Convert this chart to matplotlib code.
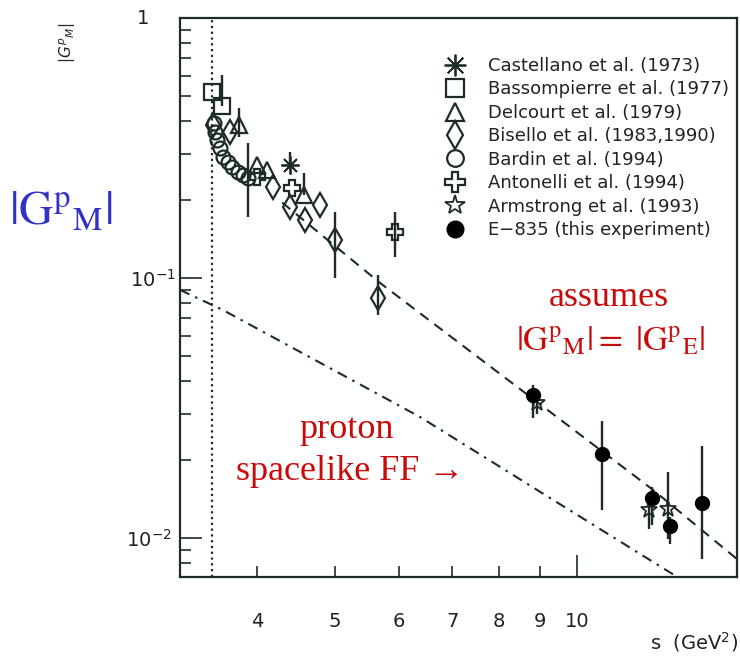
import matplotlib
matplotlib.use('Agg')
import matplotlib.pyplot as plt
import matplotlib.transforms as mtransforms
from matplotlib.lines import Line2D
from matplotlib.ticker import LogLocator, FuncFormatter, NullFormatter

W, H = 740, 662
ink = '#1e2b2b'
red = '#c80a0a'
blue = '#3232c8'

# |G_M| measurements: s (GeV^2), value, lower / upper error
castellano_s = [4.40]
castellano_g = [0.272]
castellano_lo = [0.0]
castellano_hi = [0.033]

bassompierre_s = [3.52, 3.62]
bassompierre_g = [0.52, 0.459]
bassompierre_lo = [0.0, 0.0]
bassompierre_hi = [0.0, 0.145]

delcourt_s = [3.80, 4.00, 4.12, 4.58]
delcourt_g = [0.388, 0.272, 0.260, 0.209]
delcourt_lo = [0.04, 0.0, 0.0, 0.0]
delcourt_hi = [0.063, 0.0, 0.0, 0.044]

bisello_s = [3.53, 3.70, 4.19, 4.40, 4.59, 4.79, 5.00, 5.66]
bisello_g = [0.388, 0.364, 0.224, 0.1875, 0.167, 0.191, 0.140, 0.0838]
bisello_lo = [0.0, 0.0, 0.0, 0.0, 0.0, 0.0, 0.040, 0.012]
bisello_hi = [0.0, 0.0, 0.0, 0.0, 0.0, 0.0, 0.040, 0.019]

bardin_s = [3.536, 3.55, 3.566, 3.597, 3.628, 3.68, 3.73, 3.79, 3.84, 3.90]
bardin_g = [0.395, 0.364, 0.340, 0.316, 0.292, 0.279, 0.267, 0.256, 0.249, 0.243]
bardin_lo = [0, 0, 0, 0, 0, 0, 0, 0, 0, 0.072]
bardin_hi = [0, 0, 0, 0, 0, 0, 0, 0, 0, 0.088]

antonelli_s = [4.00, 4.42, 5.94]
antonelli_g = [0.245, 0.222, 0.150]
antonelli_lo = [0.0, 0.0, 0.030]
antonelli_hi = [0.0, 0.0, 0.030]

armstrong_s = [8.92, 12.3, 12.98]
armstrong_g = [0.0331, 0.0128, 0.0129]
armstrong_lo = [0.003, 0.002, 0.003]
armstrong_hi = [0.003, 0.002, 0.005]

e835_s = [8.81, 10.74, 12.4, 13.05, 14.31]
e835_g = [0.0355, 0.0211, 0.01425, 0.0111, 0.01363]
e835_lo = [0.0065, 0.0083, 0.003, 0.0016, 0.0053]
e835_hi = [0.0033, 0.0070, 0.0015, 0.0009, 0.0090]

# curves
timelike_s = [4.3, 5.69, 12.43, 15.8]
timelike_g = [0.195, 0.0957, 0.0153, 0.0083]
spacelike_s = [3.21, 3.63, 6.38, 9.34, 13.3]
spacelike_g = [0.090, 0.0753, 0.0292, 0.0140, 0.0071]
threshold_s = 3.52

fig = plt.figure(figsize=(W / 100, H / 100), dpi=100)
ax = fig.add_axes([180 / W, 1 - 577 / H, 557 / W, 559 / H])
ax.set_xscale('log')
ax.set_yscale('log')
ax.set_xlim(3.21, 15.8)
ax.set_ylim(0.00708, 1.0)

ax.axvline(threshold_s, color=ink, ls=(0, (1, 1.6)), lw=1.6, zorder=1)
ax.plot(timelike_s, timelike_g, color=ink, lw=1.5, dashes=(5, 3.5), zorder=1)
ax.plot(spacelike_s, spacelike_g, color=ink, lw=1.5, dashes=(5, 3, 1.2, 3), zorder=1)

sets = [
    (castellano_s, castellano_g, castellano_lo, castellano_hi,
     dict(marker=(8, 2, 0), ms=13, mec=ink, mew=1.3), 'Castellano et al. (1973)'),
    (bassompierre_s, bassompierre_g, bassompierre_lo, bassompierre_hi,
     dict(marker='s', ms=11, mfc='none', mec=ink, mew=1.6), 'Bassompierre et al. (1977)'),
    (delcourt_s, delcourt_g, delcourt_lo, delcourt_hi,
     dict(marker='^', ms=11, mfc='none', mec=ink, mew=1.6), 'Delcourt et al. (1979)'),
    (bisello_s, bisello_g, bisello_lo, bisello_hi,
     dict(marker='d', ms=12, mfc='none', mec=ink, mew=1.6), 'Bisello et al. (1983,1990)'),
    (bardin_s, bardin_g, bardin_lo, bardin_hi,
     dict(marker='o', ms=10, mfc='none', mec=ink, mew=1.6), 'Bardin et al. (1994)'),
    (antonelli_s, antonelli_g, antonelli_lo, antonelli_hi,
     dict(marker='P', ms=12, mfc='none', mec=ink, mew=1.6), 'Antonelli et al. (1994)'),
    (armstrong_s, armstrong_g, armstrong_lo, armstrong_hi,
     dict(marker='*', ms=12, mfc='none', mec=ink, mew=1.3), 'Armstrong et al. (1993)'),
    (e835_s, e835_g, e835_lo, e835_hi,
     dict(marker='o', ms=10, mfc='black', mec='black', mew=1), 'E\u2212835 (this experiment)'),
]

handles = []
for s, g, lo, hi, style, label in sets:
    ax.errorbar(s, g, yerr=[lo, hi], fmt='none', ecolor=ink, elinewidth=1.7, capsize=0, zorder=2)
    ax.plot(s, g, ls='none', zorder=3, **style)
    hstyle = dict(style)
    hstyle['ms'] = style['ms'] * 1.2
    handles.append(Line2D([], [], ls='none', label=label, **hstyle))

leg = fig.legend(handles=handles, loc='upper left', bbox_to_anchor=(432 / W, 1 - 48 / H),
                 frameon=False, borderpad=0, handlelength=1.5, handletextpad=1.1,
                 labelspacing=0.3, prop=dict(family='DejaVu Sans', size=13))
for t in leg.get_texts():
    t.set_color('#222222')

# spines and ticks
for sp in ax.spines.values():
    sp.set_color(ink)
    sp.set_linewidth(1.6)
ax.tick_params(which='both', direction='in', top=False, right=False, color=ink,
               labelsize=14, labelcolor='#222222', pad=25)
ax.tick_params(which='major', length=16, width=1.2)
ax.tick_params(which='minor', length=8, width=1.2)
ax.xaxis.set_major_locator(LogLocator(base=10))
ax.xaxis.set_minor_locator(LogLocator(base=10, subs=range(2, 10)))
ax.xaxis.set_major_formatter(FuncFormatter(lambda v, p: f'{v:g}'))
ax.xaxis.set_minor_formatter(FuncFormatter(lambda v, p: f'{v:g}'))
ax.yaxis.set_major_locator(LogLocator(base=10))
ax.yaxis.set_minor_locator(LogLocator(base=10, subs=range(2, 10)))
ax.yaxis.set_major_formatter(NullFormatter())
ax.yaxis.set_minor_formatter(NullFormatter())

ytrans = mtransforms.blended_transform_factory(fig.transFigure, ax.transData)
ax.text(149 / W, 1.0, '1', transform=ytrans, ha='right', va='center', fontsize=14, color='#222222')
ax.text(176 / W, 0.1, r'$10^{-1}$', transform=ytrans, ha='right', va='center_baseline',
        fontsize=14, color='#222222')
ax.text(172 / W, 0.01, r'$10^{-2}$', transform=ytrans, ha='right', va='center_baseline',
        fontsize=14, color='#222222')

fig.text(68 / W, 1 - 43 / H, r'$|G^{p}{}_{M}|$', rotation=90, ha='center', va='center',
         fontsize=11, color='#222222')
fig.text(738 / W, 1 - 642 / H, r's  (GeV$^{2}$)', ha='right', va='center', fontsize=14, color='#222222')

# annotations
fig.text(61 / W, 1 - 212 / H, r'$|\mathrm{G}^{\mathrm{p}}{}_{\mathrm{M}}|$', ha='center', va='center',
         fontsize=34, color=blue, math_fontfamily='stix')
fig.text(609 / W, 1 - 298 / H, 'assumes', ha='center', va='center', fontsize=26, color=red,
         family=['Liberation Serif', 'DejaVu Serif'])
fig.text(611 / W, 1 - 340 / H,
         r'$|\mathrm{G}^{\mathrm{p}}{}_{\mathrm{M}}| =\ |\mathrm{G}^{\mathrm{p}}{}_{\mathrm{E}}|$',
         ha='center', va='center', fontsize=25, color=red, math_fontfamily='stix')
fig.text(347 / W, 1 - 430 / H, 'proton', ha='center', va='center', fontsize=26, color=red,
         family=['Liberation Serif', 'DejaVu Serif'])
fig.text(350 / W, 1 - 472 / H, 'spacelike FF \u2192', ha='center', va='center', fontsize=26, color=red,
         family=['Liberation Serif', 'DejaVu Serif'])

fig.savefig('out.png', dpi=100)
